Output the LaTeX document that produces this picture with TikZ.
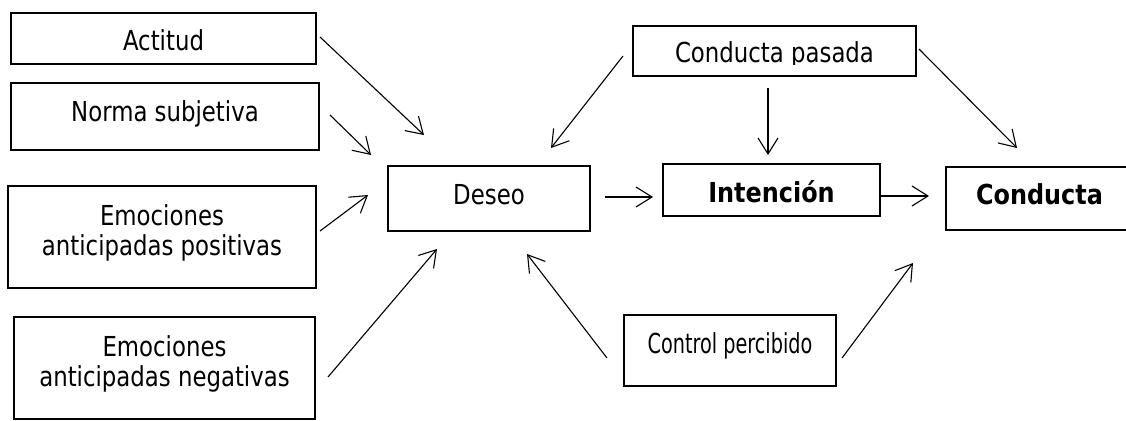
\documentclass[tikz,border=0pt]{standalone}
\usepackage{fontspec}
\setmainfont[FakeStretch=0.83]{DejaVu Sans}
\newfontfamily\boldfam[FakeStretch=0.87]{DejaVu Sans}
\newfontfamily\narrowfam[FakeStretch=0.70]{DejaVu Sans}
\usetikzlibrary{arrows.meta}
% two centred lines whose baseline is that of the first line
\newcommand\twoline[2]{\vtop{\halign{\hfil##\hfil\cr#1\cr#2\cr}}}
\tikzset{
  box/.style={draw, line width=2.2pt, inner sep=0pt, outer sep=0pt,
              anchor=north, text height=38pt},
  arr/.style={line width=1.1pt, -{Straight Barb[length=16pt,width=20pt]}},
}
\begin{document}
\begin{tikzpicture}[x=1pt, y=-1pt, font=\fontsize{27.5}{30}\selectfont]
\useasboundingbox (0,0) rectangle (1126,420);

% predictors on the left
\node[box, minimum width=305pt, text depth=13pt] (actitud) at (163.5,13) {Actitud};
\node[box, minimum width=308pt, text depth=29pt] (norma) at (165,83) {Norma subjetiva};
\node[box, minimum width=308pt, text height=39pt, text depth=63pt] (positivas) at (162,186)
  {\twoline{Emociones}{anticipadas positivas}};
\node[box, minimum width=301pt, text height=39pt, text depth=63pt] (negativas) at (164.5,317)
  {\twoline{Emociones}{anticipadas negativas}};

% central chain
\node[box, minimum width=202pt, text depth=27pt] (deseo) at (489,166) {Deseo};
\node[box, minimum width=217pt, text depth=14pt] (intencion) at (771.5,164) {\boldfam\bfseries Intención};
\node[box, minimum width=187pt, text height=37pt, text depth=26pt] (conducta) at (1039.5,167) {\boldfam\bfseries Conducta};

% past behaviour (its label is cut at the baseline)
\node[box, minimum width=283pt, text depth=12pt] (pasada) at (774.5,26) {};
\begin{scope}
  \clip (633,26) rectangle (916,64);
  \node[anchor=base, inner sep=0pt] (pasada-text) at (774.5,63) {Conducta pasada};
\end{scope}

% perceived control
\node[box, minimum width=212pt, text depth=33pt] (control) at (730,315) {\narrowfam Control percibido};

% connectors
\draw[arr] ([shift={(4,-1.5)}]actitud.east) -- ([shift={(36,-31)}]deseo.north west);
\draw[arr] ([shift={(11,-1.5)}]norma.east) -- ([shift={(-17,-11)}]deseo.north west);
\draw[arr] ([shift={(4,-6)}]positivas.east) -- ([shift={(-20,-3.5)}]deseo.west);
\draw[arr] ([shift={(13,9)}]negativas.east) -- ([shift={(49,18)}]deseo.south west);
\draw[arr] ([shift={(-10,5)}]pasada.west) -- ([shift={(-39,-18)}]deseo.north east);
\draw[arr] ([shift={(-6.5,12)}]pasada.south) -- ([shift={(-3.5,-9)}]intencion.north);
\draw[arr] ([shift={(3,-2)}]pasada.east) -- ([shift={(71,-19)}]conducta.north west);
\draw[arr] ([shift={(15,-1.5)}]deseo.east) -- ([shift={(-10,7)}]intencion.west);
\draw[arr] ([shift={(0,6)}]intencion.east) -- ([shift={(-17,-2.5)}]conducta.west);
\draw[arr] ([shift={(-17,7.5)}]control.west) -- ([shift={(-63,23)}]deseo.south east);
\draw[arr] ([shift={(6,7.5)}]control.east) -- ([shift={(-33,33)}]conducta.south west);
\end{tikzpicture}
\end{document}
